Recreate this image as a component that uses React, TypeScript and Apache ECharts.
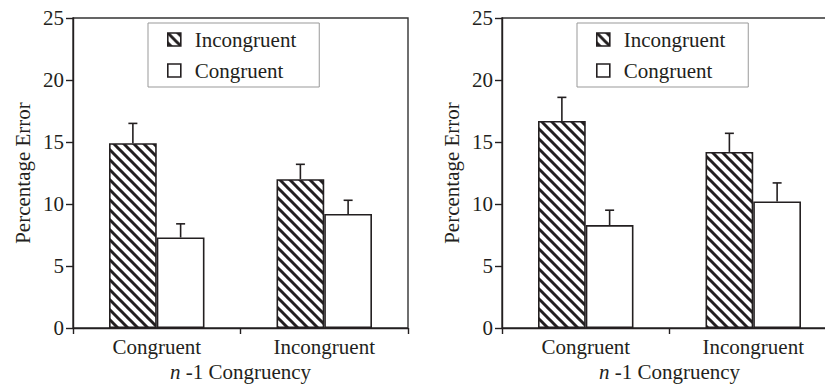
import React, { useEffect, useRef } from "react";
import * as echarts from "echarts";

const categories = ["Congruent", "Incongruent"];
const seriesNames = ["Incongruent", "Congruent"];

// Left panel
const leftIncongruent = [14.9, 12.0];
const leftIncongruentErr = [1.6, 1.2];
const leftCongruent = [7.3, 9.2];
const leftCongruentErr = [1.1, 1.1];

// Right panel
const rightIncongruent = [16.7, 14.2];
const rightIncongruentErr = [1.9, 1.5];
const rightCongruent = [8.3, 10.2];
const rightCongruentErr = [1.2, 1.5];

const yTicks = [0, 5, 10, 15, 20, 25];

const FONT = "Liberation Serif";
const INK = "#231f20";
const CAT_GAP = 0.43;

function makeHatch(): string {
  const c = document.createElement("canvas");
  const s = 10;
  c.width = s;
  c.height = s;
  const ctx = c.getContext("2d")!;
  ctx.fillStyle = "#ffffff";
  ctx.fillRect(0, 0, s, s);
  ctx.strokeStyle = INK;
  ctx.lineWidth = 3;
  ctx.lineCap = "square";
  for (const x0 of [-s, 0, s]) {
    ctx.beginPath();
    ctx.moveTo(x0 - 2, -2);
    ctx.lineTo(x0 + s + 2, s + 2);
    ctx.stroke();
  }
  return c.toDataURL();
}

export default function App() {
  const ref = useRef<HTMLDivElement>(null);

  useEffect(() => {
    document.body.style.margin = "0";
    document.body.style.overflow = "hidden";
    if (!ref.current) return;
    const chart = echarts.init(ref.current, undefined, { renderer: "svg" });
    const hatch = { image: makeHatch(), repeat: "repeat" } as any;

    const grids = [
      { left: 73, top: 18, width: 335, height: 310 },
      { left: 502, top: 18, width: 335, height: 310 },
    ];

    const panels = [
      { inc: leftIncongruent, incErr: leftIncongruentErr, con: leftCongruent, conErr: leftCongruentErr },
      { inc: rightIncongruent, incErr: rightIncongruentErr, con: rightCongruent, conErr: rightCongruentErr },
    ];

    const errRender = (side: number) => (params: any, api: any) => {
      const cat = api.value(0);
      const v = api.value(1);
      const hi = api.value(2);
      const base = api.coord([cat, v]);
      const top = api.coord([cat, hi]);
      const band = api.size([1, 0])[0];
      const bw = (band * (1 - CAT_GAP)) / 2;
      const x = base[0] + (side * bw) / 2;
      const style = { stroke: INK, lineWidth: 1.6 };
      return {
        type: "group",
        children: [
          { type: "line", shape: { x1: x, y1: base[1], x2: x, y2: top[1] }, style },
          { type: "line", shape: { x1: x - 4.5, y1: top[1], x2: x + 4.5, y2: top[1] }, style },
        ],
      };
    };

    const series: any[] = [];
    panels.forEach((p, i) => {
      series.push({
        type: "bar",
        name: seriesNames[0],
        xAxisIndex: i,
        yAxisIndex: i,
        data: p.inc,
        barGap: "0%",
        barCategoryGap: CAT_GAP * 100 + "%",
        itemStyle: { color: hatch, borderColor: INK, borderWidth: 1.6 },
      });
      series.push({
        type: "bar",
        name: seriesNames[1],
        xAxisIndex: i,
        yAxisIndex: i,
        data: p.con,
        barGap: "0%",
        barCategoryGap: CAT_GAP * 100 + "%",
        itemStyle: { color: "#ffffff", borderColor: INK, borderWidth: 1.6 },
      });
      series.push({
        type: "custom",
        xAxisIndex: i,
        yAxisIndex: i,
        renderItem: errRender(-1),
        data: p.inc.map((v, k) => [k, v, v + p.incErr[k]]),
        z: 5,
      });
      series.push({
        type: "custom",
        xAxisIndex: i,
        yAxisIndex: i,
        renderItem: errRender(1),
        data: p.con.map((v, k) => [k, v, v + p.conErr[k]]),
        z: 5,
      });
    });

    const legendCommon = {
      orient: "vertical",
      top: 23,
      data: seriesNames,
      icon: "rect",
      itemWidth: 13,
      itemHeight: 13,
      itemGap: 10,
      padding: [6, 23, 6, 19],
      borderColor: "#999",
      borderWidth: 1,
      selectedMode: false,
      itemStyle: { borderColor: INK, borderWidth: 1.6 },
      textStyle: { fontFamily: FONT, fontSize: 21, color: INK, lineHeight: 21, padding: [0, 0, 0, 9] },
    };

    chart.setOption({
      animation: false,
      textStyle: { fontFamily: FONT },
      grid: grids.map((g) => ({
        ...g,
        show: true,
        containLabel: false,
        outerBoundsMode: "none",
        borderColor: "#333",
        borderWidth: 1.4,
        backgroundColor: "transparent",
      })),
      legend: [
        { ...legendCommon, left: 148 },
        { ...legendCommon, left: 577 },
      ],
      xAxis: grids.map((_, i) => ({
        type: "category",
        gridIndex: i,
        data: categories,
        axisLine: { lineStyle: { color: INK, width: 1.4 } },
        axisTick: { show: true, length: 6, alignWithLabel: false, lineStyle: { color: INK, width: 1.4 } },
        axisLabel: { fontFamily: FONT, fontSize: 21, color: INK, margin: 8 },
        name: "{i|n} -1 Congruency",
        nameLocation: "middle",
        nameGap: 31,
        nameTextStyle: {
          fontFamily: FONT,
          fontSize: 21,
          color: INK,
          rich: { i: { fontFamily: FONT, fontSize: 21, fontStyle: "italic", color: INK } },
        },
      })),
      yAxis: grids.map((_, i) => ({
        type: "value",
        gridIndex: i,
        min: yTicks[0],
        max: yTicks[yTicks.length - 1],
        interval: yTicks[1] - yTicks[0],
        splitLine: { show: false },
        axisLine: { show: true, lineStyle: { color: INK, width: 1.4 } },
        axisTick: { show: true, length: 7, lineStyle: { color: INK, width: 1.4 } },
        axisLabel: { fontFamily: FONT, fontSize: 21, color: INK, margin: 9 },
        name: "Percentage Error",
        nameLocation: "middle",
        nameGap: 40,
        nameTextStyle: { fontFamily: FONT, fontSize: 21, color: INK },
      })),
      series,
    });

    return () => chart.dispose();
  }, []);

  return (
    <div
      ref={ref}
      style={{ position: "absolute", left: 0, top: 0, width: 825, height: 385, overflow: "hidden", background: "#fff" }}
    />
  );
}
